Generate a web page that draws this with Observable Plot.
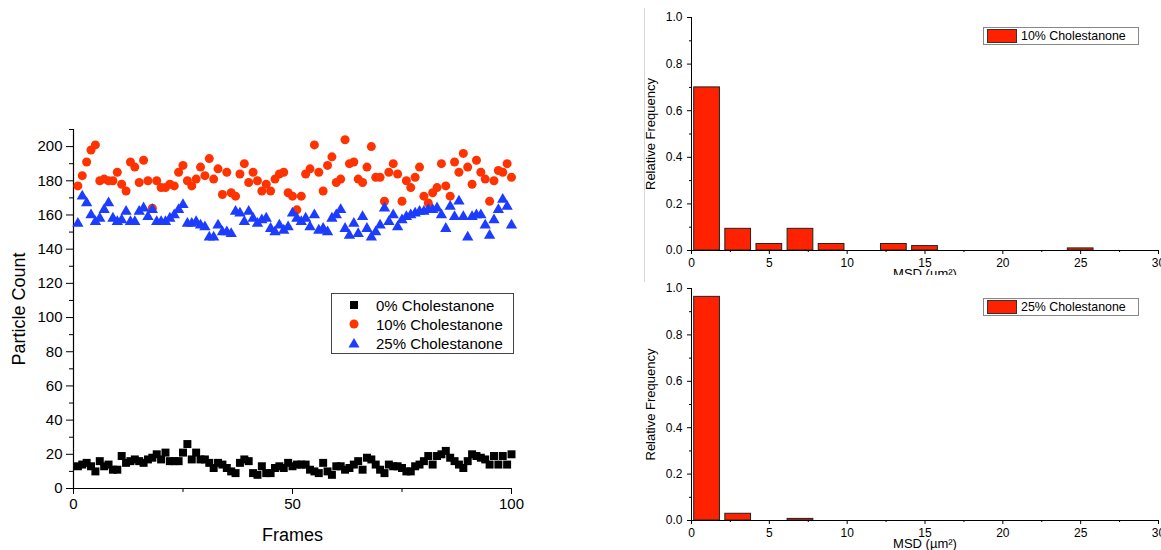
<!DOCTYPE html>
<html>
<head>
<meta charset="utf-8">
<script src="https://cdn.jsdelivr.net/npm/d3@7"></script>
<script src="https://cdn.jsdelivr.net/npm/@observablehq/plot@0.6"></script>
<style>
  body { margin: 0; background: #fff; font-family: "Liberation Sans", Arial, sans-serif; color: #000; }
  #page { position: relative; width: 1161px; height: 550px; overflow: hidden; background: #fff; }
  .panel { position: absolute; overflow: hidden; }
  .panel svg { display: block; background: transparent; }
  .edge { position: absolute; left: 644px; top: 8px; width: 0; height: 274px; border-left: 1px solid #d6d6d6; }
  .legend { position: absolute; border: 1px solid #444; background: #fff; font-size: 15px; }
  .legend .row { position: absolute; left: 0; height: 19px; line-height: 19px; white-space: nowrap; }
  .legend .row svg { position: absolute; left: 16px; top: 3px; }
  .legend .row span { position: absolute; left: 44px; }
  .hlegend { position: absolute; width: 154px; height: 16px; border: 1px solid #888; background: #fff; font-size: 12.4px; }
  .hlegend .sw { position: absolute; left: 3px; top: 1px; width: 28px; height: 12px; background: #ff2200; border: 1px solid #333; }
  .hlegend span { position: absolute; left: 37px; top: 0; line-height: 16px; white-space: nowrap; }
</style>
</head>
<body>
<div id="page">
  <div id="scatter" class="panel" style="left:0;top:0;width:640px;height:550px"></div>
  <div id="hist10" class="panel" style="left:640px;top:0;width:521px;height:275px"></div>
  <div id="hist25" class="panel" style="left:640px;top:275px;width:521px;height:275px"></div>
  <div class="edge"></div>

  <div class="legend" style="left:331px;top:293px;width:181px;height:59px">
    <div class="row" style="top:2px"><svg width="12" height="12"><rect x="2" y="2" width="8" height="8" fill="#000"/></svg><span>0% Cholestanone</span></div>
    <div class="row" style="top:21px"><svg width="12" height="12"><circle cx="6" cy="6" r="4.5" fill="#ff3300"/></svg><span>10% Cholestanone</span></div>
    <div class="row" style="top:40px"><svg width="12" height="12"><path d="M6,1 L11.5,10.5 L0.5,10.5 Z" fill="#1c3cff"/></svg><span>25% Cholestanone</span></div>
  </div>

  <div class="hlegend" style="left:983px;top:27px"><div class="sw"></div><span>10% Cholestanone</span></div>
  <div class="hlegend" style="left:983px;top:298px"><div class="sw"></div><span>25% Cholestanone</span></div>
</div>

<script>
// Particle counts per frame (frames 1..100)
const count0 = [13,14,15,13,10,16,13,14,11,11,19,15,16,17,16,15,17,18,20,17,
                21,16,16,16,21,26,17,21,17,17,15,12,15,14,12,10,9,15,17,16,
                9,8,13,9,9,12,13,12,15,13,14,14,14,11,10,9,15,10,8,13,
                13,11,12,14,16,11,18,17,14,11,9,14,13,13,12,10,10,13,14,16,
                19,14,19,20,22,18,16,14,12,16,20,19,18,17,14,19,14,19,14,20];
const count10 = [177,183,191,198,201,180,181,180,180,185,178,174,191,188,179,192,180,164,180,176,
                 176,178,177,185,189,180,177,181,188,183,193,181,187,172,185,173,171,184,190,179,
                 185,180,174,178,174,181,184,185,173,171,163,171,184,187,201,185,174,189,194,179,
                 181,204,190,191,181,179,188,200,182,182,168,185,190,184,168,180,176,182,188,171,
                 167,173,176,190,177,171,191,185,196,188,178,192,185,181,168,180,186,185,190,182];
const count25 = [155,171,167,160,156,158,163,167,158,156,157,162,156,156,162,164,159,163,156,156,
                 156,158,160,163,166,155,155,156,154,153,147,147,154,150,150,149,162,161,156,162,
                 158,155,157,158,152,150,154,151,153,161,158,156,158,153,160,151,152,150,158,160,
                 163,152,148,155,149,159,152,147,150,154,164,156,160,153,157,159,160,161,162,162,
                 163,163,164,160,152,165,159,168,159,147,159,160,160,154,148,157,163,169,165,154];

// MSD histograms: bin starts (µm²), bin width 2, relative frequencies
const msdBinStart = [0,2,4,6,8,10,12,14,16,18,20,22,24,26,28];
const freq10 = [0.700,0.093,0.028,0.093,0.028,0,0.028,0.019,0,0,0,0,0.009,0,0];
const freq25 = [0.964,0.029,0,0.007,0,0,0,0,0,0,0,0,0,0,0];

const font = '"Liberation Sans", Arial, sans-serif';
const toRows = ys => ys.map((y, i) => ({frame: i + 1, y}));

const scatter = Plot.plot({
  width: 640, height: 550,
  marginLeft: 73, marginRight: 129, marginTop: 129, marginBottom: 62,
  x: {domain: [0, 100]},
  y: {domain: [0, 210]},
  style: {fontFamily: font, fontSize: "15px", color: "#000", background: "transparent", overflow: "visible"},
  marks: [
    Plot.ruleX([0], {stroke: "#000", strokeWidth: 1.2}),
    Plot.ruleY([0], {stroke: "#000", strokeWidth: 1.2}),
    Plot.axisY(d3.range(10, 211, 20), {tickSize: 4, tickFormat: () => "", label: null}),
    Plot.axisY(d3.range(0, 201, 20), {tickSize: 7, tickPadding: 4, fontSize: 15, label: null}),
    Plot.axisY([], {label: "Particle Count", labelAnchor: "center", labelArrow: "none", labelOffset: 61, fontSize: 18}),
    Plot.axisX([25, 75], {tickSize: 4, tickFormat: () => "", label: null}),
    Plot.axisX([0, 50, 100], {tickSize: 6, tickPadding: 4, fontSize: 15, label: null}),
    Plot.axisX([], {label: "Frames", labelAnchor: "center", labelArrow: "none", labelOffset: 52, fontSize: 18}),
    Plot.dot(toRows(count0), {x: "frame", y: "y", symbol: "square", r: 4.5, fill: "#000", stroke: "none"}),
    Plot.dot(toRows(count10), {x: "frame", y: "y", symbol: "circle", r: 4.5, fill: "#ff3300", stroke: "none"}),
    Plot.dot(toRows(count25), {x: "frame", y: "y", symbol: "triangle", r: 4.2, fill: "#1c3cff", stroke: "none"})
  ]
});
document.getElementById("scatter").appendChild(scatter);

function histogram(freqs, marginTop, marginBottom) {
  const rows = msdBinStart.map((x0, i) => ({x0, x1: x0 + 2, f: freqs[i]})).filter(d => d.f > 0);
  return Plot.plot({
    width: 521, height: 275,
    marginLeft: 51, marginRight: 3, marginTop, marginBottom,
    x: {domain: [0, 30]},
    y: {domain: [0, 1]},
    style: {fontFamily: font, fontSize: "12px", color: "#000", background: "transparent", overflow: "visible"},
    marks: [
      Plot.rectY(rows, {x1: "x0", x2: "x1", y: "f", fill: "#ff2200", stroke: "#222", strokeWidth: 1, insetLeft: 2.7, insetRight: 2.7}),
      Plot.ruleX([0], {stroke: "#000"}),
      Plot.ruleY([0], {stroke: "#000"}),
      Plot.axisY(d3.range(0.1, 1, 0.2), {tickSize: 2, tickFormat: () => "", label: null}),
      Plot.axisY(d3.range(0, 1.01, 0.2), {tickSize: 4, tickPadding: 5, tickFormat: d3.format(".1f"), fontSize: 12, label: null}),
      Plot.axisY([], {label: "Relative Frequency", labelAnchor: "center", labelArrow: "none", labelOffset: 46, fontSize: 13}),
      Plot.axisX(d3.range(2.5, 30, 5), {tickSize: 2, tickFormat: () => "", label: null}),
      Plot.axisX(d3.range(0, 31, 5), {tickSize: 4, tickPadding: 4, fontSize: 12, label: null}),
      Plot.axisX([], {label: "MSD (µm²)", labelAnchor: "center", labelArrow: "none", labelOffset: 27, fontSize: 13})
    ]
  });
}
document.getElementById("hist10").appendChild(histogram(freq10, 17, 25));
document.getElementById("hist25").appendChild(histogram(freq25, 13, 30));
</script>
</body>
</html>
